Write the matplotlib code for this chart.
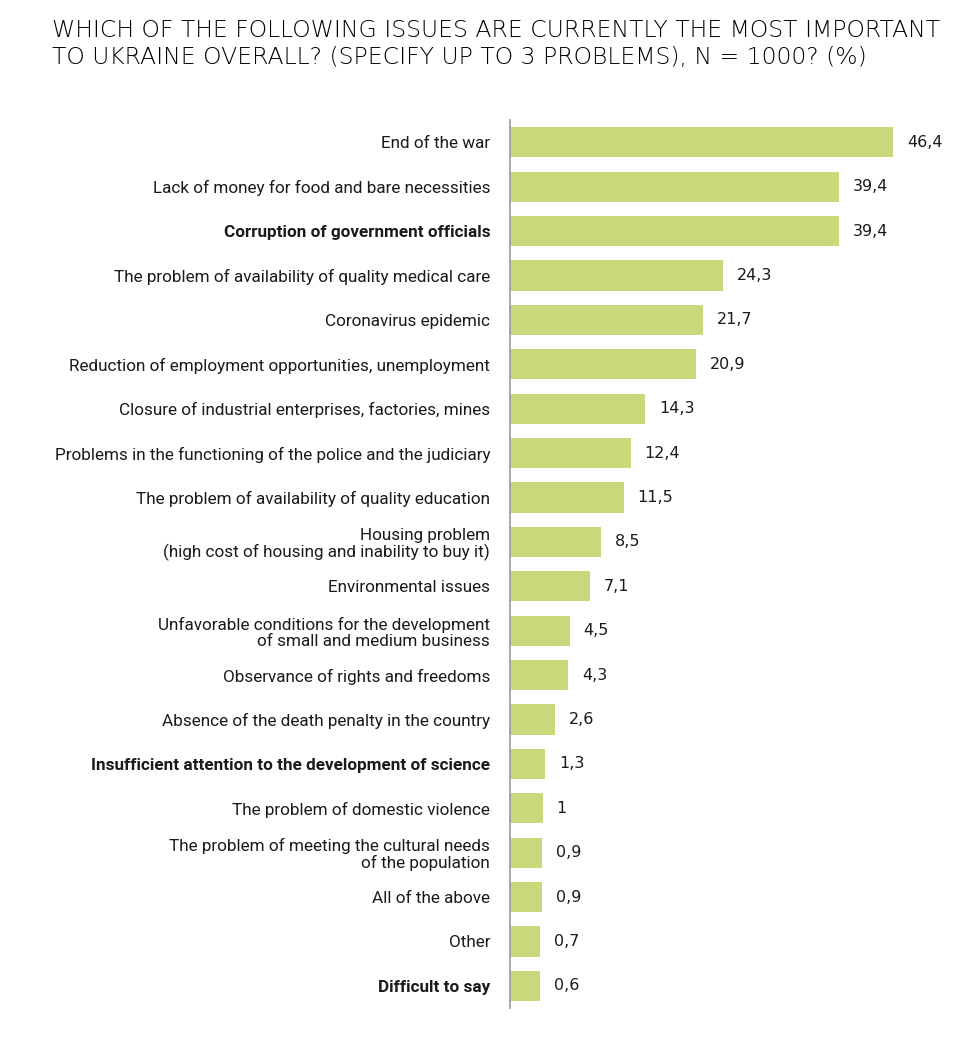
import matplotlib.pyplot as plt

# dados
problemas = [
    "End of the war",
    "Lack of money for food and bare necessities",
    "Corruption of government officials",
    "The problem of availability of quality medical care",
    "Coronavirus epidemic",
    "Reduction of employment opportunities, unemployment",
    "Closure of industrial enterprises, factories, mines",
    "Problems in the functioning of the police and the judiciary",
    "The problem of availability of quality education",
    "Housing problem\n(high cost of housing and inability to buy it)",
    "Environmental issues",
    "Unfavorable conditions for the development\nof small and medium business",
    "Observance of rights and freedoms",
    "Absence of the death penalty in the country",
    "Insufficient attention to the development of science",
    "The problem of domestic violence",
    "The problem of meeting the cultural needs\nof the population",
    "All of the above",
    "Other",
    "Difficult to say",
]
valores = [46.4, 39.4, 39.4, 24.3, 21.7, 20.9, 14.3, 12.4, 11.5, 8.5,
           7.1, 4.5, 4.3, 2.6, 1.3, 1, 0.9, 0.9, 0.7, 0.6]
negrito = ["Corruption of government officials",
           "Insufficient attention to the development of science",
           "Difficult to say"]
titulo = ("WHICH OF THE FOLLOWING ISSUES ARE CURRENTLY THE MOST IMPORTANT\n"
          "TO UKRAINE OVERALL? (SPECIFY UP TO 3 PROBLEMS), N = 1000? (%)")

cor_barra = "#c8d87a"
base = 3.3  # as barras começam um pouco antes do zero

fig = plt.figure(figsize=(9.8, 10.39), dpi=100)
ax = fig.add_axes([0.520, 0.0298, 0.48, 0.8547])

pos = range(len(valores))
ax.barh(pos, [v + base for v in valores], left=-base, height=0.68,
        color=cor_barra, edgecolor="none")

ax.set_ylim(len(valores) - 0.5, -0.5)
ax.set_xlim(-base, 57.66)

ax.set_yticks(list(pos))
ax.set_yticklabels(problemas, fontsize=12.3, color="#1a1a1a", family="Roboto",
                   linespacing=1.1)
for lbl, nome in zip(ax.get_yticklabels(), problemas):
    if nome in negrito:
        lbl.set_fontweight("bold")
ax.tick_params(axis="y", length=0, pad=14)
ax.set_xticks([])

for s in ["top", "right", "bottom"]:
    ax.spines[s].set_visible(False)
ax.spines["left"].set_color("#9a9a9a")
ax.spines["left"].set_linewidth(1.2)

for i, v in enumerate(valores):
    txt = f"{v:g}".replace(".", ",")
    ax.annotate(txt, (v, i), xytext=(10, 0), textcoords="offset points",
                va="center", ha="left", fontsize=11.5, color="#1a1a1a",
                family="DejaVu Sans")

fig.text(0.053, 0.982, titulo, ha="left", va="top", fontsize=16.9,
         family="DejaVu Sans", fontweight="light", color="black",
         linespacing=1.25)

fig.savefig("out.png", dpi=100)
